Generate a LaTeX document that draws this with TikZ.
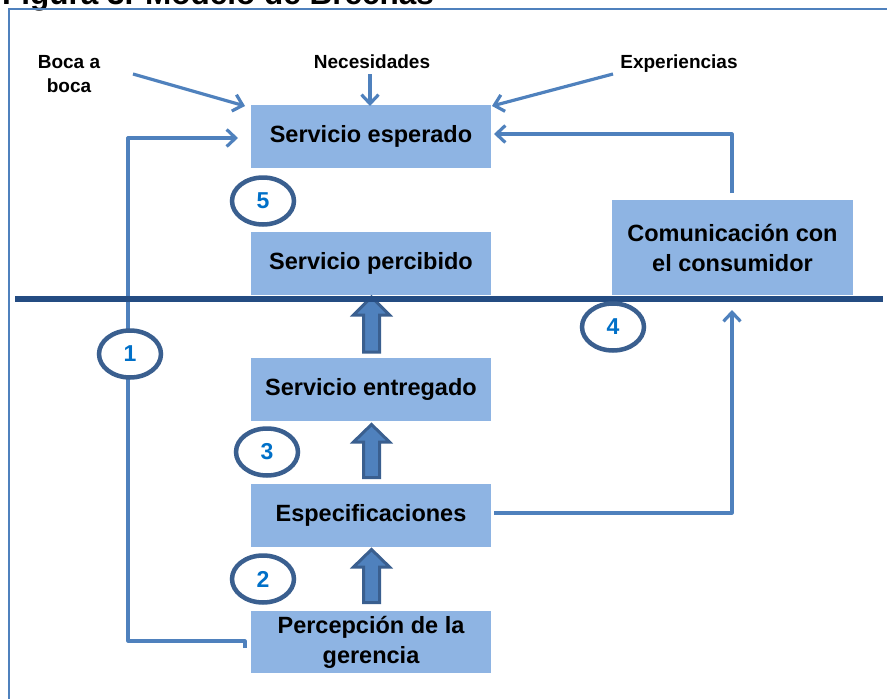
\documentclass[tikz,border=0pt]{standalone}
\usepackage{fontspec}
\setmainfont{Liberation Sans}
\usetikzlibrary{arrows.meta,shapes.geometric}
\definecolor{boxblue}{HTML}{8EB4E3}
\definecolor{connblue}{HTML}{4F81BD}
\definecolor{darkline}{HTML}{244C82}
\definecolor{circblue}{HTML}{3A5F8F}
\definecolor{numblue}{HTML}{0070C8}
\tikzset{
  stagebox/.style={fill=boxblue, text=black, inner sep=0pt, minimum width=240pt, minimum height=63pt, align=center, font=\bfseries\fontsize{23.5}{30}\selectfont},
  extlabel/.style={inner sep=0pt, align=center, font=\bfseries\fontsize{19}{24}\selectfont},
  gapmark/.style={ellipse, draw=circblue, line width=4.5pt, fill=white, minimum width=62pt, minimum height=47pt, inner sep=0pt, text=numblue, font=\bfseries\fontsize{23}{26}\selectfont},
  conn/.style={draw=connblue, line width=3.2pt, line join=round},
  connarrow/.style={conn, -{Straight Barb[length=9pt,width=17pt]}},
  fatarrow/.style={fill=connblue, draw=circblue, line width=3pt, line join=miter},
  frameline/.style={draw=connblue, line width=2pt},
  gapline/.style={draw=darkline, line width=6pt}
}
\newcommand{\myfatarrow}[4]{%
  \draw[fatarrow] (#1-8,#4) -- (#1-8,#3) -- (#1-18,#3) -- (#1,#2) -- (#1+18,#3) -- (#1+8,#3) -- (#1+8,#4) -- cycle;}
\begin{document}
\begin{tikzpicture}[x=1pt,y=-1pt]
\useasboundingbox (0,0) rectangle (887,699);
\clip (0,0) rectangle (887,699);
% title (cut off at top)
\node[anchor=base west, inner sep=0pt, font=\bfseries\fontsize{31.5}{36}\selectfont] (title) at (2,4) {Figura 3. Modelo de Brechas};
% frame
\draw[frameline] (9,700) -- (9,9) -- (890,9);
% boxes
\node[stagebox] (esp) at (371,136.5) {\raisebox{-2pt}{Servicio esperado}};
\node[stagebox] (perc) at (371,263.5) {\raisebox{-2pt}{Servicio percibido}};
\node[stagebox] (entr) at (371,389.5) {\raisebox{-2pt}{Servicio entregado}};
\node[stagebox] (spec) at (371,515.5) {\raisebox{-2pt}{Especificaciones}};
\node[stagebox, minimum height=62pt] (ger) at (371,642) {Percepción de la\\gerencia};
\node[stagebox, minimum width=241pt, minimum height=95pt] (com) at (732.5,247.5) {Comunicación con\\el consumidor};
% external labels
\node[extlabel] (boca) at (69,74) {Boca a\\boca};
\node[extlabel, anchor=base] (nec) at (372,68) {Necesidades};
\node[extlabel, anchor=base] (exp) at (679,68) {Experiencias};
% coordinates for connector ends
\coordinate (bocaS) at (133,74);
\coordinate (bocaE) at (245,106);
\coordinate (necS) at (370,74);
\coordinate (necE) at (370,106);
\coordinate (expS) at (613,74);
\coordinate (expE) at (492,106);
\coordinate (gerS) at (245,648);
\coordinate (gerT) at (245,641);
\coordinate (leftC) at (128,641);
\coordinate (leftT) at (128,138);
\coordinate (espL) at (238,138);
\coordinate (comS) at (732,193);
\coordinate (comT) at (732,134);
\coordinate (espR) at (494,134);
\coordinate (specS) at (494,513);
\coordinate (specC) at (732,513);
\coordinate (comB) at (732,310);
% thin connectors
\draw[connarrow] (bocaS) -- (bocaE);
\draw[connarrow] (necS) -- (necE);
\draw[connarrow] (expS) -- (expE);
\draw[connarrow] (gerS) -- (gerT) -- (leftC) -- (leftT) -- (espL);
\draw[connarrow] (comS) -- (comT) -- (espR);
\draw[connarrow] (specS) -- (specC) -- (comB);
% fat arrows
\myfatarrow{371.5}{297}{315}{352}
\myfatarrow{371.5}{424.5}{442}{477.5}
\myfatarrow{371.5}{549.5}{567}{602.5}
% gap line
\draw[gapline] (15,299) -- (883,299);
% gap markers
\node[gapmark] (g1) at (130,354) {1};
\node[gapmark] (g2) at (263,579) {2};
\node[gapmark] (g3) at (267,452) {3};
\node[gapmark] (g4) at (613,327) {4};
\node[gapmark] (g5) at (263,201) {5};
\end{tikzpicture}
\end{document}
